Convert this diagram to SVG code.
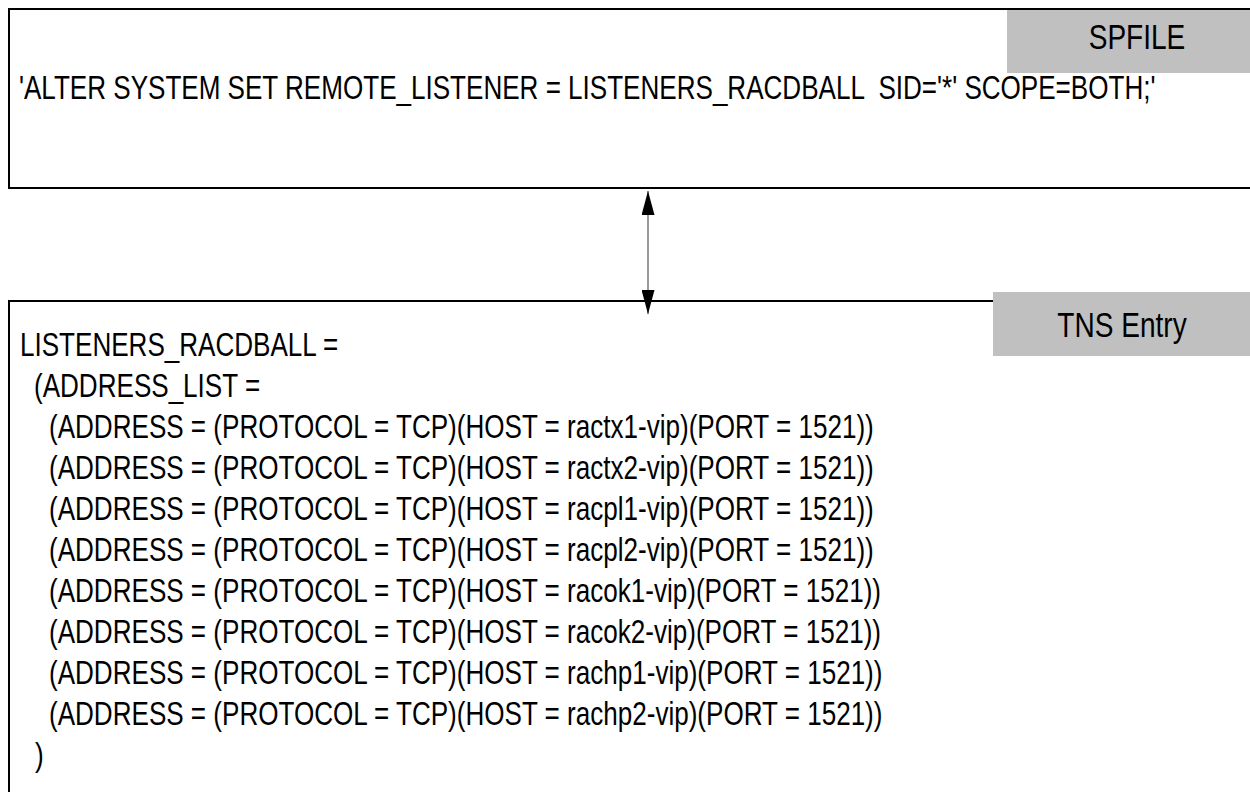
<svg xmlns="http://www.w3.org/2000/svg" width="1250" height="792" viewBox="0 0 1250 792">
  <style>
    .frame { fill: #ffffff; stroke: #000000; stroke-width: 2; }
    .tag { fill: #c0c0c0; stroke: none; }
    .code { font-family: "Liberation Sans", Arial, sans-serif; font-size: 33px; fill: #000000; white-space: pre; }
    .tagtext { font-family: "Liberation Sans", Arial, sans-serif; font-size: 35.5px; fill: #000000; text-anchor: middle; }
    .link { stroke: #555555; stroke-width: 1.2; fill: none; }
  </style>
  <defs>
    <marker id="arrowhead" viewBox="0 0 24 13" refX="24" refY="6.5" markerWidth="24" markerHeight="13" markerUnits="userSpaceOnUse" orient="auto-start-reverse">
      <path d="M0,0 L24,6.5 L0,13 Z" fill="#000000"/>
    </marker>
  </defs>

  <rect width="1250" height="792" fill="#ffffff"/>

  <!-- parameter file statement -->
  <g id="spfile-node">
    <rect class="frame" x="9" y="9" width="1260" height="179"/>
    <rect class="tag" x="1007" y="10" width="250" height="63"/>
    <g transform="translate(1137 49) scale(0.79 1)">
      <text class="tagtext" x="0" y="0">SPFILE</text>
    </g>
    <g transform="translate(19 99) scale(0.79 1)">
      <text class="code" x="0" y="0" xml:space="preserve">'ALTER SYSTEM SET REMOTE_LISTENER = LISTENERS_RACDBALL  SID='*' SCOPE=BOTH;'</text>
    </g>
  </g>

  <!-- tnsnames alias -->
  <g id="tns-node">
    <rect class="frame" x="9" y="301" width="1260" height="520"/>
    <rect class="tag" x="993" y="292" width="260" height="64"/>
    <g transform="translate(1122 337) scale(0.79 1)">
      <text class="tagtext" x="0" y="0">TNS Entry</text>
    </g>
    <g transform="translate(20 356) scale(0.79 1)">
      <text class="code" x="0" y="0">LISTENERS_RACDBALL =</text>
    </g>
    <g transform="translate(34 397) scale(0.79 1)">
      <text class="code" x="0" y="0">(ADDRESS_LIST =</text>
    </g>
    <g transform="translate(49 0) scale(0.79 1)">
      <text class="code" x="0" y="438">(ADDRESS = (PROTOCOL = TCP)(HOST = ractx1-vip)(PORT = 1521))</text>
      <text class="code" x="0" y="479">(ADDRESS = (PROTOCOL = TCP)(HOST = ractx2-vip)(PORT = 1521))</text>
      <text class="code" x="0" y="520">(ADDRESS = (PROTOCOL = TCP)(HOST = racpl1-vip)(PORT = 1521))</text>
      <text class="code" x="0" y="561">(ADDRESS = (PROTOCOL = TCP)(HOST = racpl2-vip)(PORT = 1521))</text>
      <text class="code" x="0" y="602">(ADDRESS = (PROTOCOL = TCP)(HOST = racok1-vip)(PORT = 1521))</text>
      <text class="code" x="0" y="643">(ADDRESS = (PROTOCOL = TCP)(HOST = racok2-vip)(PORT = 1521))</text>
      <text class="code" x="0" y="684">(ADDRESS = (PROTOCOL = TCP)(HOST = rachp1-vip)(PORT = 1521))</text>
      <text class="code" x="0" y="725">(ADDRESS = (PROTOCOL = TCP)(HOST = rachp2-vip)(PORT = 1521))</text>
    </g>
    <g transform="translate(35 766) scale(0.79 1)">
      <text class="code" x="0" y="0">)</text>
    </g>
  </g>

  <!-- two-way link between the two blocks -->
  <g id="connectors">
    <line class="link" x1="648" y1="191" x2="648" y2="314" marker-start="url(#arrowhead)" marker-end="url(#arrowhead)"/>
  </g>
</svg>
